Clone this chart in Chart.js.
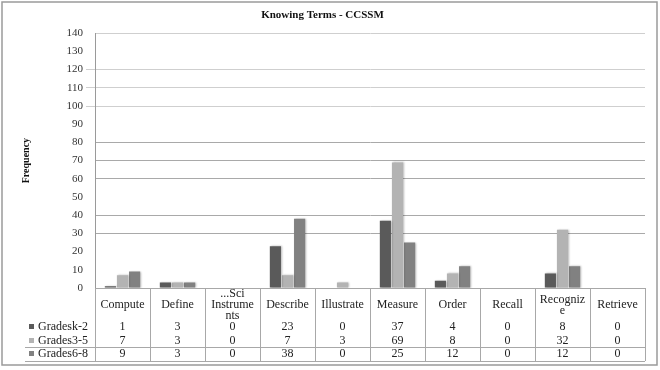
<!DOCTYPE html>
<html>
<head>
<meta charset="utf-8">
<script src="https://cdn.jsdelivr.net/npm/chart.js@4.4.1/dist/chart.umd.min.js"></script>
<style>
  html, body { margin: 0; padding: 0; background: #fff; }
  #wrap { width: 660px; height: 370px; position: relative; }
</style>
</head>
<body>
<div id="wrap"><canvas id="terms-chart" width="660" height="370"></canvas></div>
<script>
const categories = ['Compute', 'Define', '...Sci Instruments', 'Describe', 'Illustrate', 'Measure', 'Order', 'Recall', 'Recognize', 'Retrieve'];
// how the category names wrap in the data table
const categoryLines = [['Compute'], ['Define'], ['...Sci', 'Instrume', 'nts'], ['Describe'], ['Illustrate'], ['Measure'], ['Order'], ['Recall'], ['Recogniz', 'e'], ['Retrieve']];
const seriesNames = ['Gradesk-2', 'Grades3-5', 'Grades6-8'];
const gradesK2 = [1, 3, 0, 23, 0, 37, 4, 0, 8, 0];
const grades35 = [7, 3, 0, 7, 3, 69, 8, 0, 32, 0];
const grades68 = [9, 3, 0, 38, 0, 25, 12, 0, 12, 0];
const yTicks = [0, 10, 20, 30, 40, 50, 60, 70, 80, 90, 100, 110, 120, 130, 140];
// gridlines that are faded out in the scan
const hiddenGrid = [10, 20, 50, 90, 130];

const COLORS = ['#5a5a5a', '#b3b3b3', '#818181'];
const SERIF = "'Liberation Serif', 'DejaVu Serif', serif";

const shadowPlugin = {
  id: 'barShadow',
  beforeDatasetsDraw(chart) {
    const c = chart.ctx;
    c.save();
    c.shadowColor = 'rgba(0,0,0,0.28)';
    c.shadowBlur = 2;
    c.shadowOffsetX = 1;
    c.shadowOffsetY = 0;
  },
  afterDatasetsDraw(chart) { chart.ctx.restore(); }
};

// data table under the plot, built on the x scale's columns
const tablePlugin = {
  id: 'dataTable',
  beforeDraw(chart) {
    const c = chart.ctx;
    c.save();
    c.fillStyle = '#fff';
    c.fillRect(0, 0, chart.width, chart.height);
    c.restore();
  },
  afterDraw(chart) {
    const c = chart.ctx;
    const x = chart.scales.x;
    const area = chart.chartArea;
    const top = area.bottom;
    const half = (x.getPixelForValue(1) - x.getPixelForValue(0)) / 2;
    const left = x.getPixelForValue(0) - half;
    const right = x.getPixelForValue(categories.length - 1) + half;
    const rowY = [top + 39, top + 53, top + 66];
    const bottom = top + 73;
    const series = [gradesK2, grades35, grades68];

    c.save();
    c.strokeStyle = '#a8a8a8';
    c.lineWidth = 1;
    c.beginPath();
    for (let i = 0; i <= categories.length; i++) {
      const px = Math.round(left + i * half * 2) + 0.5;
      c.moveTo(px, top); c.lineTo(px, bottom);
    }
    c.moveTo(left, top + 0.5); c.lineTo(right, top + 0.5);
    c.moveTo(25, rowY[2] - 6.5); c.lineTo(right, rowY[2] - 6.5);
    c.moveTo(25, bottom + 0.5); c.lineTo(right, bottom + 0.5);
    c.stroke();

    c.fillStyle = '#222';
    c.font = `12px ${SERIF}`;
    c.textAlign = 'center';
    c.textBaseline = 'middle';
    categoryLines.forEach((lines, i) => {
      const cx = x.getPixelForValue(i);
      const y0 = top + 17 - (lines.length - 1) * 5.5;
      lines.forEach((t, j) => c.fillText(t, cx, y0 + j * 11));
      series.forEach((s, r) => c.fillText(String(s[i]), cx, rowY[r]));
    });

    c.textAlign = 'left';
    seriesNames.forEach((name, r) => {
      c.fillStyle = COLORS[r];
      c.fillRect(29, rowY[r] - 3, 5, 5);
      c.fillStyle = '#222';
      c.fillText(name, 38, rowY[r]);
    });

    // outer frame of the picture
    c.strokeStyle = '#9a9a9a';
    c.lineWidth = 1.5;
    c.strokeRect(2, 2, 655, 363);
    c.restore();
  }
};

new Chart(document.getElementById('terms-chart'), {
  type: 'bar',
  data: {
    labels: categories,
    datasets: seriesNames.map((name, i) => ({
      label: name,
      data: [gradesK2, grades35, grades68][i],
      backgroundColor: COLORS[i],
      borderWidth: 0,
      categoryPercentage: 0.66,
      barPercentage: 0.92
    }))
  },
  options: {
    responsive: false,
    animation: false,
    devicePixelRatio: 1,
    layout: { padding: { left: 0, right: 15, top: 0, bottom: 82 } },
    plugins: {
      legend: { display: false },
      tooltip: { enabled: false },
      title: {
        display: true,
        text: 'Knowing Terms - CCSSM',
        color: '#111',
        font: { family: SERIF, size: 11, weight: 'bold' },
        padding: { top: 9, bottom: 11 }
      }
    },
    scales: {
      x: { display: false },
      y: {
        min: 0, max: 140,
        afterBuildTicks: scale => { scale.ticks = yTicks.map(v => ({ value: v })); },
        afterFit: scale => { scale.width = 95; },
        border: { color: '#9a9a9a', width: 1 },
        grid: {
          color: ctx => {
            const v = ctx.tick.value;
            if (v === 0) return '#9a9a9a';
            if (hiddenGrid.includes(v)) return 'rgba(0,0,0,0)';
            return v >= 100 ? '#cfcfcf' : '#a9a9a9';
          },
          tickColor: ctx => {
            const v = ctx.tick.value;
            return (v >= 100 && v <= 120) ? '#cfcfcf' : 'rgba(0,0,0,0)';
          },
          tickLength: 9
        },
        ticks: {
          color: '#333',
          padding: 3,
          font: { family: SERIF, size: 11 }
        },
        title: {
          display: true,
          text: 'Frequency',
          color: '#111',
          font: { family: SERIF, size: 10, weight: 'bold' },
          padding: { top: 20, bottom: 0 }
        }
      }
    }
  },
  plugins: [tablePlugin, shadowPlugin]
});
</script>
</body>
</html>
